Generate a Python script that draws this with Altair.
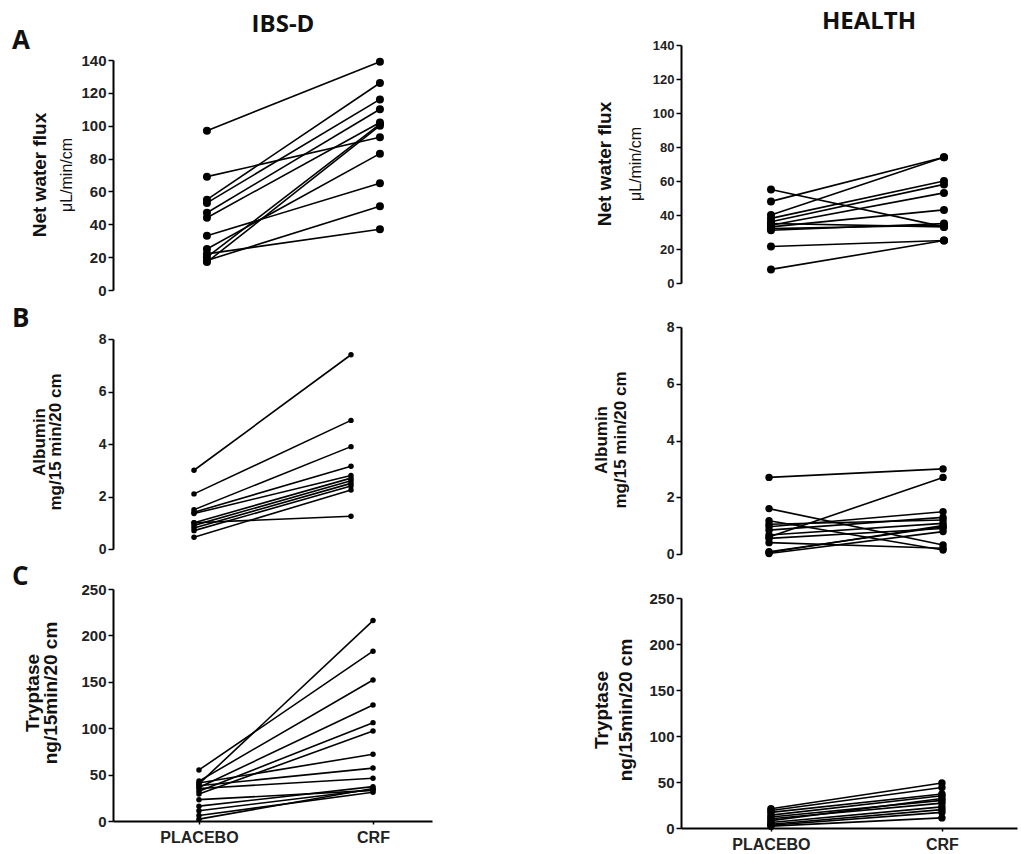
import altair as alt
import pandas as pd

conditions = ["PLACEBO", "CRF"]

# Panel A - Net water flux (uL/min/cm)
a_ibs_placebo = [97, 69, 55, 53, 47, 44, 33, 25, 20, 17, 18, 22]
a_ibs_crf = [139, 93, 126, 116, 110, 102, 65, 83, 101, 100, 51, 37]
a_health_placebo = [55, 48, 40, 38, 36, 34, 33, 32, 35, 21.5, 8, 31]
a_health_crf = [33, 74, 74, 60, 58, 53, 43, 34, 33, 25, 25, 35]

# Panel B - Albumin (mg/15 min/20 cm)
b_ibs_placebo = [3.0, 2.1, 1.5, 1.4, 1.35, 1.0, 0.9, 0.8, 0.7, 0.45, 1.0]
b_ibs_crf = [7.4, 4.9, 3.9, 3.15, 2.8, 2.7, 2.6, 2.5, 2.4, 2.25, 1.25]
b_health_placebo = [2.7, 0.6, 1.6, 1.17, 0.96, 0.84, 0.67, 0.08, 0.02, 1.05, 0.05, 0.4, 0.55]
b_health_crf = [3.0, 2.7, 0.32, 0.14, 1.49, 1.29, 1.08, 0.96, 0.79, 1.2, 1.0, 0.2, 0.9]

# Panel C - Tryptase (ng/15min/20 cm)
c_ibs_placebo = [55, 40, 43, 36, 32, 29, 41, 38, 35, 16, 11, 6, 2, 23]
c_ibs_crf = [183, 216, 152, 125, 106, 97, 72, 57, 46, 37, 34, 31, 35, 33]
c_health_placebo = [21, 19, 17, 14, 12, 10, 6, 4, 3, 2, 8]
c_health_crf = [49, 44, 37, 35, 30, 27, 23, 20, 17, 11, 32]

a_ticks = [0, 20, 40, 60, 80, 100, 120, 140]
b_ticks = [0, 2, 4, 6, 8]
c_ticks = [0, 50, 100, 150, 200, 250]

FONT = "Liberation Sans"


def long_df(placebo, crf):
    rows = []
    for i, (p, c) in enumerate(zip(placebo, crf)):
        for cond, v in ((conditions[0], p), (conditions[1], c)):
            rows.append({"subject": i, "condition": cond,
                         "pos": conditions.index(cond), "value": v})
    return pd.DataFrame(rows)


def text_layer(t):
    mk = dict(font=t.get("font", FONT), fontSize=t["size"],
              fontWeight=t.get("weight", "bold"), color="#111",
              align=t.get("align", "center"), baseline="middle")
    if t.get("angle"):
        mk["angle"] = t["angle"]
    return alt.Chart(pd.DataFrame({"label": [t["text"]]})).mark_text(**mk).encode(
        x=alt.value(t["x"]), y=alt.value(t["y"]), text="label:N")


def panel(placebo, crf, ymax, yticks, w, h, xdom, dot, show_x, texts, lab_size, yrange=None):
    df = long_df(placebo, crf)
    if show_x:
        xaxis = alt.Axis(values=[0, 1],
                         labelExpr="datum.value == 0 ? 'PLACEBO' : 'CRF'",
                         grid=False, title=None, domainWidth=2, domainColor="black",
                         tickSize=3, tickColor="black", tickWidth=1.5,
                         labelFontSize=16, labelFontWeight="bold", labelPadding=5,
                         labelFont=FONT, labelColor="#222")
    else:
        xaxis = None
    x = alt.X("pos:Q", scale=alt.Scale(domain=xdom, nice=False, zero=False), axis=xaxis)
    ysc = dict(domain=[0, ymax], nice=False, zero=True)
    if yrange is not None:
        ysc["range"] = yrange
    y = alt.Y("value:Q", scale=alt.Scale(**ysc),
              axis=alt.Axis(values=yticks, grid=False, title=None, domainWidth=2,
                            domainColor="black", tickSize=5, tickWidth=1.5,
                            tickColor="black", labelFontSize=lab_size,
                            labelFontWeight="bold", labelPadding=2, labelFont=FONT,
                            labelColor="#222", format="d"))
    base = alt.Chart(df)
    lines = base.mark_line(color="black", strokeWidth=1.6).encode(
        x=x, y=y, detail="subject:N")
    pts = base.mark_circle(color="black", opacity=1, size=dot).encode(x=x, y=y)
    layers = [lines, pts] + [text_layer(t) for t in texts]
    return alt.layer(*layers).properties(width=w, height=h)


LW, RW = 319, 336

# left A panel: plot area drawn 15px lower than the right one
a_l = panel(a_ibs_placebo, a_ibs_crf, 140, a_ticks, LW, 245, [-0.543, 1.301], 64, False, [
    {"text": "IBS-D", "x": 170, "y": -20, "size": 24, "font": "Open Sans"},
    {"text": "A", "x": -101, "y": -4, "size": 26, "font": "Open Sans", "align": "left"},
    {"text": "Net water flux", "x": -73, "y": 130, "size": 19, "angle": 270},
    {"text": "\u03bcL/min/cm", "x": -46, "y": 130, "size": 16, "weight": "normal", "angle": 270},
], 15, yrange=[245, 15])
b_l = panel(b_ibs_placebo, b_ibs_crf, 8, b_ticks, LW, 210, [-0.516, 1.516], 30, False, [
    {"text": "B", "x": -101, "y": -20, "size": 26, "font": "Open Sans", "align": "left"},
    {"text": "Albumin", "x": -73, "y": 103, "size": 17, "angle": 270},
    {"text": "mg/15 min/20 cm", "x": -57, "y": 103, "size": 17, "angle": 270},
], 14)
c_l = panel(c_ibs_placebo, c_ibs_crf, 250, c_ticks, LW, 232, [-0.494, 1.339], 30, True, [
    {"text": "C", "x": -101, "y": -12, "size": 26, "font": "Open Sans", "align": "left"},
    {"text": "Tryptase", "x": -80, "y": 104, "size": 19, "angle": 270},
    {"text": "ng/15min/20 cm", "x": -62, "y": 104, "size": 19, "angle": 270},
], 15)

a_r = panel(a_health_placebo, a_health_crf, 140, a_ticks, RW, 238, [-0.520, 1.422], 64, False, [
    {"text": "HEALTH", "x": 188, "y": -23, "size": 24, "font": "Open Sans"},
    {"text": "Net water flux", "x": -76, "y": 119, "size": 19, "angle": 270},
    {"text": "\u03bcL/min/cm", "x": -45, "y": 119, "size": 16, "weight": "normal", "angle": 270},
], 13)
b_r = panel(b_health_placebo, b_health_crf, 8, b_ticks, RW, 227, [-0.506, 1.425], 55, False, [
    {"text": "Albumin", "x": -79, "y": 113, "size": 17, "angle": 270},
    {"text": "mg/15 min/20 cm", "x": -60, "y": 113, "size": 17, "angle": 270},
], 14)
c_r = panel(c_health_placebo, c_health_crf, 250, c_ticks, RW, 230, [-0.526, 1.439], 55, True, [
    {"text": "Tryptase", "x": -79, "y": 112, "size": 19, "angle": 270},
    {"text": "ng/15min/20 cm", "x": -55, "y": 112, "size": 19, "angle": 270},
], 15)

left = alt.vconcat(a_l, b_l, c_l, spacing=8)
right = alt.vconcat(a_r, b_r, c_r, spacing=30)

chart = alt.hconcat(left, right, spacing=161).properties(
    padding={"left": 12, "top": 10, "right": 3, "bottom": 0},
    background="white",
).configure_view(stroke=None)

chart.save("out.html", embed_options={"renderer": "svg", "actions": False})
